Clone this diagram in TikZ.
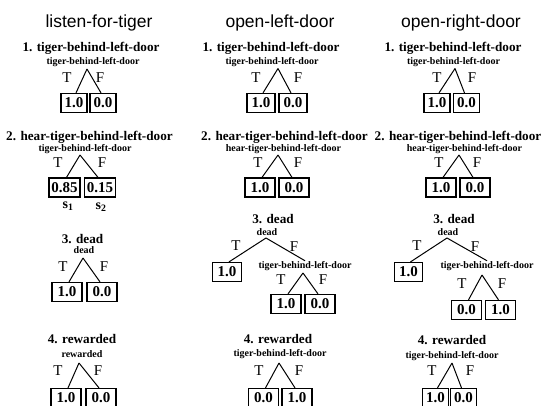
\documentclass[tikz,border=0pt]{standalone}
\usepackage{fontspec}
\setmainfont{Liberation Serif}
\newfontfamily\hdrfont{Liberation Sans}
\tikzset{
  hdrtext/.style={font=\hdrfont\fontsize{17.5}{20}\selectfont, anchor=base, inner sep=0pt},
  ttltext/.style={font=\bfseries\fontsize{13.2}{15}\selectfont, anchor=base, inner sep=0pt},
  subtext/.style={font=\bfseries\fontsize{10}{12}\selectfont, anchor=base, inner sep=0pt},
  tftext/.style={font=\fontsize{15}{17}\selectfont, anchor=base, inner sep=0pt},
  valbox/.style={draw, line width=1.2pt, font=\bfseries\fontsize{15}{17}\selectfont,
                 minimum height=19pt, inner sep=1.5pt},
  branch/.style={line width=1pt},
  stext/.style={font=\bfseries\fontsize{14}{16}\selectfont, anchor=base, inner sep=0pt}
}
% #1 prefix, #2 apex, #3 T pos, #4 F pos, #5 left box pos, #6 left value, #7 right box pos, #8 right value, #9 box width
\newcommand\mytree[9]{%
  \coordinate (#1a) at (#2);
  \node[tftext] (#1T) at (#3) {T};
  \node[tftext] (#1F) at (#4) {F};
  \node[valbox, minimum width=#9] (#1L) at (#5) {#6};
  \node[valbox, minimum width=#9] (#1R) at (#7) {#8};
  \draw[branch] (#1a) -- ([xshift=2pt]#1L.north);
  \draw[branch] (#1a) -- ([xshift=-2pt]#1R.north);
}
\begin{document}
\begin{tikzpicture}[x=1pt, y=-1pt]
\fill[white] (0,0) rectangle (543,405);
\useasboundingbox (0,0) rectangle (543,405);

% headers
\node[hdrtext] (h1) at (99,27) {listen-for-tiger};
\node[hdrtext] (h2) at (280,27) {open-left-door};
\node[hdrtext] (h3) at (461,27) {open-right-door};

% ---------- column 1 ----------
\node[ttltext] (c1t1) at (91,51) {1. tiger-behind-left-door};
\node[subtext] (c1s1) at (93,64) {tiger-behind-left-door};
\mytree{c1x1}{87,69}{67,82}{100,82}{74,103}{1.0}{103,103}{0.0}{26pt}

\node[ttltext] (c1t2) at (89.5,140) {2. hear-tiger-behind-left-door};
\node[subtext] (c1s2) at (85,151) {tiger-behind-left-door};
\mytree{c1x2}{80,155}{58,167}{102,167}{64.5,187.5}{0.85}{100,187.5}{0.15}{31pt}
\node[stext] (s1) at (68,208) {s\textsubscript{1}};
\node[stext] (s2) at (101,209) {s\textsubscript{2}};

\node[ttltext] (c1t3) at (82.5,243) {3. dead};
\node[subtext] (c1s3) at (84,253) {dead};
\mytree{c1x3}{83,258}{63,271.5}{104,271.5}{67,292}{1.0}{102,292}{0.0}{30pt}

\node[ttltext] (c1t4) at (82,343) {4. rewarded};
\node[subtext] (c1s4) at (82,357) {rewarded};
\mytree{c1x4}{79,363}{58,375.5}{98,375.5}{66,398}{1.0}{101,398}{0.0}{30pt}

% ---------- column 2 ----------
\node[ttltext] (c2t1) at (271,51) {1. tiger-behind-left-door};
\node[subtext] (c2s1) at (272,64) {tiger-behind-left-door};
\mytree{c2x1}{278,68.5}{256,82}{298,82}{261,103}{1.0}{293,103}{0.0}{28pt}

\node[ttltext] (c2t2) at (284.5,140) {2. hear-tiger-behind-left-door};
\node[subtext] (c2s2) at (283.5,151) {hear-tiger-behind-left-door};
\mytree{c2x2}{278,155}{258,167}{298,167}{260,187.5}{1.0}{294,187.5}{0.0}{30pt}

\node[ttltext] (c2t3) at (273,223) {3. dead};
\node[subtext] (c2s3) at (267,235) {dead};
\coordinate (c2d) at (266,238);
\node[tftext] (c2dT) at (236,250.5) {T};
\node[tftext] (c2dF) at (294,251.5) {F};
\node[valbox, minimum width=29pt] (c2dL) at (227,272) {1.0};
\node[subtext] (c2s3b) at (305,268) {tiger-behind-left-door};
\draw[branch] (c2d) -- ([xshift=2pt]c2dL.north);
\draw[branch] (c2d) -- (c2s3b.north);
\mytree{c2x3}{303,273}{281,284}{323,284}{286,304}{1.0}{320,304}{0.0}{30pt}

\node[ttltext] (c2t4) at (278,343) {4. rewarded};
\node[subtext] (c2s4) at (280,356) {tiger-behind-left-door};
\mytree{c2x4}{279,363}{259,375.5}{299,375.5}{263.5,398}{0.0}{297,398}{1.0}{30pt}

% ---------- column 3 ----------
\node[ttltext] (c3t1) at (453,51) {1. tiger-behind-left-door};
\node[subtext] (c3s1) at (453.5,64) {tiger-behind-left-door};
\mytree{c3x1}{455,68.5}{437,82}{472,82}{437,103}{1.0}{466.5,103}{0.0}{26pt}

\node[ttltext] (c3t2) at (458,140) {2. hear-tiger-behind-left-door};
\node[subtext] (c3s2) at (464.5,151) {hear-tiger-behind-left-door};
\mytree{c3x2}{459,155}{439,167}{477,167}{441,187.5}{1.0}{475,187.5}{0.0}{30pt}

\node[ttltext] (c3t3) at (454,223) {3. dead};
\node[subtext] (c3s3) at (448,235) {dead};
\coordinate (c3d) at (447,238);
\node[tftext] (c3dT) at (417,250.5) {T};
\node[tftext] (c3dF) at (475,251.5) {F};
\node[valbox, minimum width=28pt] (c3dL) at (408.5,272) {1.0};
\node[subtext] (c3s3b) at (487,268) {tiger-behind-left-door};
\draw[branch] (c3d) -- ([xshift=2pt]c3dL.north);
\draw[branch] (c3d) -- (c3s3b.north);
\mytree{c3x3}{482,275}{462,288.5}{502,288.5}{466.5,310}{0.0}{500.5,310}{1.0}{30pt}

\node[ttltext] (c3t4) at (452,344) {4. rewarded};
\node[subtext] (c3s4) at (452,358) {tiger-behind-left-door};
\mytree{c3x4}{452,363}{432,375.5}{470,375.5}{435.5,398}{1.0}{463.5,398}{0.0}{26pt}
\end{tikzpicture}
\end{document}
